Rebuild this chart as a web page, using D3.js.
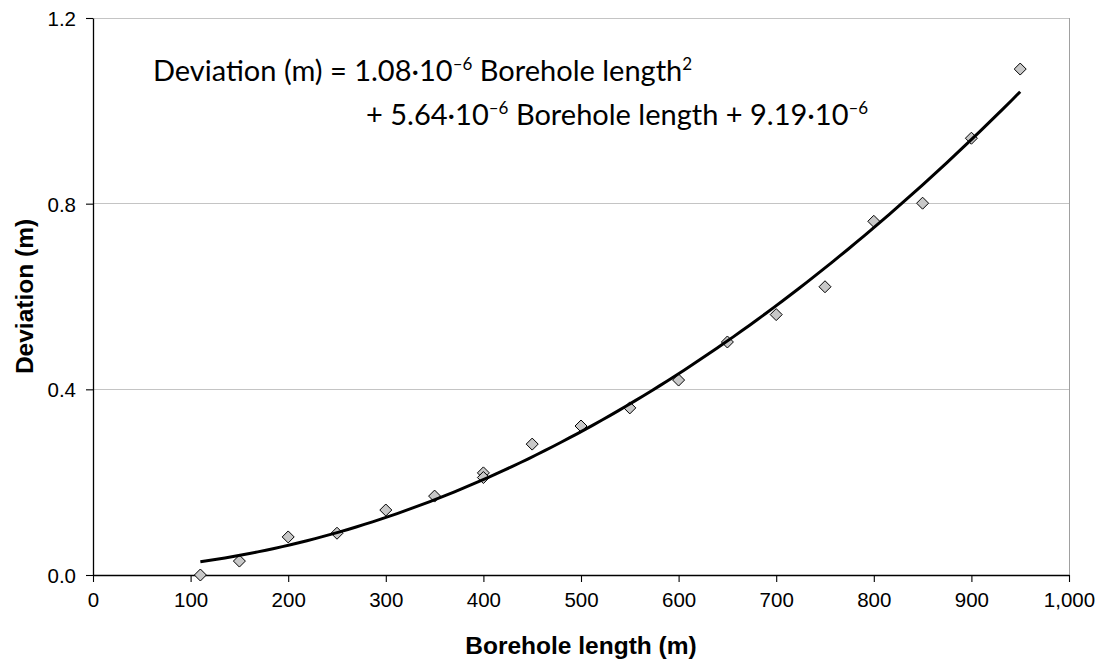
<!DOCTYPE html>
<html>
<head>
<meta charset="utf-8">
<script src="https://cdn.jsdelivr.net/npm/d3@7"></script>
<style>
  html, body { margin: 0; padding: 0; background: #fff; }
  svg { display: block; }
</style>
</head>
<body>
<svg id="chart" width="1105" height="662"></svg>
<script>
// Borehole survey: lateral deviation measured against drilled length
const boreholeLength = [110, 150, 200, 250, 300, 350, 400, 400, 450, 500, 550, 600, 650, 700, 750, 800, 850, 900, 950];
const deviation      = [0.0, 0.030, 0.082, 0.090, 0.140, 0.170, 0.22, 0.21, 0.282, 0.321, 0.36, 0.42, 0.502, 0.561, 0.621, 0.762, 0.801, 0.941, 1.09];

const xTicks = [0, 100, 200, 300, 400, 500, 600, 700, 800, 900, 1000];
const yTicks = [0.0, 0.4, 0.8, 1.2];

const margin = { left: 93, right: 1105 - 1069, top: 18, bottom: 662 - 575 };
const width = 1105, height = 662;

const svg = d3.select("#chart");

const x = d3.scaleLinear().domain([0, 1000]).range([margin.left, width - margin.right]);
const y = d3.scaleLinear().domain([0, 1.2]).range([height - margin.bottom, margin.top]);

// Horizontal gridlines
svg.append("g")
  .selectAll("line")
  .data(yTicks.filter(d => d > 0))
  .join("line")
  .attr("x1", x(0)).attr("x2", x(1000))
  .attr("y1", d => y(d)).attr("y2", d => y(d))
  .attr("stroke", "#c4c4c4").attr("stroke-width", 1)
  .attr("shape-rendering", "crispEdges");

// Right edge of the plot area
svg.append("line")
  .attr("x1", x(1000)).attr("x2", x(1000))
  .attr("y1", y(1.2)).attr("y2", y(0))
  .attr("stroke", "#a0a0a0").attr("stroke-width", 1)
  .attr("shape-rendering", "crispEdges");

// Axes
const fmtX = d3.format(",");
const xAxis = svg.append("g")
  .attr("transform", `translate(0,${y(0)})`)
  .call(d3.axisBottom(x).tickValues(xTicks).tickFormat(fmtX).tickSizeInner(7).tickSizeOuter(0).tickPadding(9));
const yAxis = svg.append("g")
  .attr("transform", `translate(${x(0)},0)`)
  .call(d3.axisLeft(y).tickValues(yTicks).tickFormat(d3.format(".1f")).tickSizeInner(7).tickSizeOuter(0).tickPadding(10));

[xAxis, yAxis].forEach(g => {
  g.select(".domain").attr("stroke", "#000").attr("stroke-width", 1.3);
  g.selectAll(".tick line").attr("stroke", "#000").attr("stroke-width", 1.1);
  g.selectAll(".tick text")
    .attr("fill", "#000")
    .style("font-family", "'Liberation Sans', Arial, sans-serif")
    .style("font-size", "20.5px");
});
yAxis.selectAll(".tick text").attr("dy", "0.36em");
xAxis.selectAll(".tick text").attr("dy", "0.78em");

// Axis titles
svg.append("text")
  .attr("x", (x(0) + x(1000)) / 2)
  .attr("y", 654)
  .attr("text-anchor", "middle")
  .style("font-family", "'Liberation Sans', Arial, sans-serif")
  .style("font-weight", "bold")
  .style("font-size", "24.5px")
  .text("Borehole length (m)");

svg.append("text")
  .attr("transform", `translate(33,${(y(0) + y(1.2)) / 2}) rotate(-90)`)
  .attr("text-anchor", "middle")
  .style("font-family", "'Liberation Sans', Arial, sans-serif")
  .style("font-weight", "bold")
  .style("font-size", "24.5px")
  .text("Deviation (m)");

// Second-order polynomial trend line, least-squares fit to the measurements
function quadFit(xs, ys) {
  const n = xs.length;
  let s = [0, 0, 0, 0, 0], t = [0, 0, 0];
  for (let i = 0; i < n; i++) {
    let p = 1;
    for (let k = 0; k < 5; k++) { s[k] += p; p *= xs[i]; }
    t[0] += ys[i]; t[1] += ys[i] * xs[i]; t[2] += ys[i] * xs[i] * xs[i];
  }
  // Normal equations for c0 + c1 x + c2 x^2
  const A = [[s[0], s[1], s[2], t[0]], [s[1], s[2], s[3], t[1]], [s[2], s[3], s[4], t[2]]];
  for (let i = 0; i < 3; i++) {
    for (let j = i + 1; j < 3; j++) {
      const f = A[j][i] / A[i][i];
      for (let k = i; k < 4; k++) A[j][k] -= f * A[i][k];
    }
  }
  const c = [0, 0, 0];
  for (let i = 2; i >= 0; i--) {
    let v = A[i][3];
    for (let k = i + 1; k < 3; k++) v -= A[i][k] * c[k];
    c[i] = v / A[i][i];
  }
  return c;
}
const coef = quadFit(boreholeLength, deviation);
const xMin = d3.min(boreholeLength), xMax = d3.max(boreholeLength);
const trend = d3.range(0, 101).map(i => {
  const xv = xMin + (xMax - xMin) * i / 100;
  return [xv, coef[0] + coef[1] * xv + coef[2] * xv * xv];
});

// Data markers
const diamond = "M0,-6L6,0L0,6L-6,0Z";
svg.append("g")
  .selectAll("path")
  .data(boreholeLength.map((d, i) => [d, deviation[i]]))
  .join("path")
  .attr("d", diamond)
  .attr("transform", d => `translate(${x(d[0])},${y(d[1])})`)
  .attr("fill", "#c8c8c8")
  .attr("stroke", "#000")
  .attr("stroke-width", 1);

svg.append("path")
  .datum(trend)
  .attr("d", d3.line().x(d => x(d[0])).y(d => y(d[1])))
  .attr("fill", "none")
  .attr("stroke", "#000")
  .attr("stroke-width", 3);

// Regression equation (two lines, superscript exponents)
const eqFont = "Lato, 'Open Sans', sans-serif";
const SUP = 11;
function eqLine(px, py, parts) {
  const t = svg.append("text")
    .attr("x", px).attr("y", py)
    .style("font-family", eqFont)
    .style("font-size", "29px")
    .attr("fill", "#000");
  let raised = false;
  parts.forEach(p => {
    const ts = t.append("tspan");
    if (p.sup) {
      ts.attr("dy", -SUP).style("font-size", "17px").text(p.sup);
      raised = true;
    } else {
      if (raised) { ts.attr("dy", SUP); raised = false; }
      ts.text(p.t);
    }
  });
  return t;
}
eqLine(153, 81, [
  { t: "Deviation (m) = 1.08·10" }, { sup: "–6" },
  { t: " Borehole length" }, { sup: "2" }
]);
eqLine(366, 125, [
  { t: "+ 5.64·10" }, { sup: "–6" },
  { t: " Borehole length + 9.19·10" }, { sup: "–6" }
]);
</script>
</body>
</html>
